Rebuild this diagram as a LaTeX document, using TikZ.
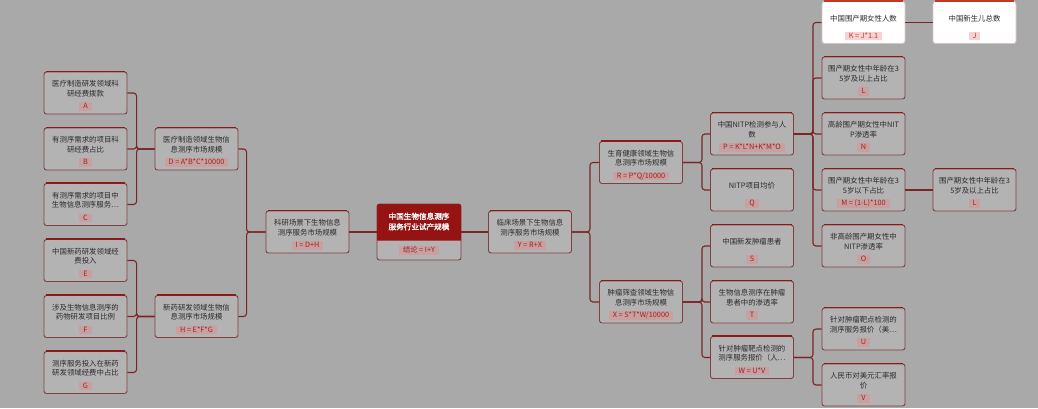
\documentclass[tikz,border=0pt]{standalone}
\usepackage{fontspec}
\newfontfamily\cjk{Noto Sans CJK SC}
\newfontfamily\cjkb{Noto Sans CJK SC}[FakeBold=1.5]
\usetikzlibrary{calc}
\definecolor{bgc}{HTML}{A9A9A9}
\definecolor{boxfill}{HTML}{B3B3B3}
\definecolor{boxborder}{HTML}{7E4040}
\definecolor{topred}{HTML}{8C1A1A}
\definecolor{labfill}{HTML}{C9A0A0}
\definecolor{labtext}{HTML}{9A2424}
\definecolor{txtc}{HTML}{2A2A2A}
\definecolor{linec}{HTML}{7A2626}
\definecolor{ctrred}{HTML}{951313}
\definecolor{wborder}{HTML}{D9C4C4}
\definecolor{wtop}{HTML}{C0392B}
\definecolor{wlabfill}{HTML}{F6D2D2}
\definecolor{wlabtext}{HTML}{C0392B}
\tikzset{
  box/.style={draw=boxborder, fill=boxfill, line width=0.9pt, rounded corners=2.5pt,
    minimum width=83pt, minimum height=42pt, inner sep=0pt},
  wbox/.style={draw=wborder, fill=white},
  topl/.style={draw=topred, line width=1.6pt},
  wtopl/.style={draw=wtop, line width=1.6pt},
  txt/.style={font=\cjk\fontsize{7.4}{9.3}\selectfont, text=txtc, align=center, inner sep=0pt},
  lab/.style={font=\cjk\fontsize{7.3}{7.5}\selectfont, fill=labfill, text=labtext,
    inner xsep=4pt, inner ysep=0.8pt, text height=5.4pt, text depth=1.2pt},
  wlab/.style={fill=wlabfill, text=wlabtext},
  conn/.style={draw=linec, line width=1.1pt, rounded corners=3pt},
}
\newcommand\bnode[5][]{%
  \node[box,#1] (#2) at #3 {};
  \draw[topl] ([xshift=2pt]#2.north west) -- ([xshift=-2pt]#2.north east);
  \node[txt] (#2t) at ([yshift=4.3pt]#2.center) {#4};
  \node[lab] (#2l) at ([yshift=8pt]#2.south) {#5};
}
\newcommand\wnode[4]{%
  \node[box,wbox] (#1) at #2 {};
  \draw[wtopl] ([xshift=2pt]#1.north west) -- ([xshift=-2pt]#1.north east);
  \node[txt] (#1t) at ([yshift=4.3pt]#1.center) {#3};
  \node[lab,wlab] (#1l) at ([yshift=8pt]#1.south) {#4};
}
\begin{document}
\begin{tikzpicture}[x=1pt,y=-1pt]
\fill[bgc] (0,0) rectangle (1038,408);
\useasboundingbox (0,0) rectangle (1038,408);

% left leaves
\bnode{A}{(85.5,93)}{医疗制造研发领域科\\研经费拨款}{A}
\bnode{B}{(85.5,149)}{有测序需求的项目科\\研经费占比}{B}
\bnode{C}{(85.5,204.5)}{有测序需求的项目中\\生物信息测序服务…}{C}
\bnode{E}{(85.5,260.5)}{中国新药研发领域经\\费投入}{E}
\bnode{F}{(85.5,316.5)}{涉及生物信息测序的\\药物研发项目比例}{F}
\bnode{G}{(85.5,372.5)}{测序服务投入在新药\\研发领域经费中占比}{G}
\bnode{D}{(196.5,149)}{医疗制造领域生物信\\息测序市场规模}{D = A*B*C*10000}
\bnode{H}{(196.5,316.5)}{新药研发领域生物信\\息测序市场规模}{H = E*F*G}
\bnode{I}{(307.5,232)}{科研场景下生物信息\\测序服务市场规模}{I = D+H}

% center
\node[box, minimum width=84pt, minimum height=56pt] (ctr) at (419,232) {};
\fill[ctrred] ($(ctr.north west)+(0.45,37)$) {[rounded corners=2.5pt] -- ($(ctr.north west)+(0.45,0.45)$) -- ($(ctr.north east)+(-0.45,0.45)$)} -- ($(ctr.north east)+(-0.45,37)$) -- cycle;
\node[txt, text=white, font=\cjkb\fontsize{7.6}{10.5}\selectfont] (ctrt) at ([yshift=10.5pt]ctr.center) {中国生物信息测序\\服务行业试产规模};
\node[lab] (ctrl) at ([yshift=10pt]ctr.south) {结论 = I+Y};

% right side
\bnode{Y}{(530,232)}{临床场景下生物信息\\测序服务市场规模}{Y = R+X}
\bnode{R}{(641,162.5)}{生育健康领域生物信\\息测序市场规模}{R = P*Q/10000}
\bnode{X}{(641,302)}{肿瘤筛查领域生物信\\息测序市场规模}{X = S*T*W/10000}
\bnode{P}{(752,134)}{中国NITP检测参与人\\数}{P = K*L*N+K*M*O}
\bnode{Q}{(752,190)}{NITP项目均价}{Q}
\bnode{S}{(752,246)}{中国新发肿瘤患者}{S}
\bnode{T}{(752,302)}{生物信息测序在肿瘤\\患者中的渗透率}{T}
\bnode{W}{(752,357.5)}{针对肿瘤靶点检测的\\测序服务报价（人…}{W = U*V}
\wnode{K}{(863.5,22.5)}{中国围产期女性人数}{K = J*1.1}
\wnode{J}{(974.5,22.5)}{中国新生儿总数}{J}
\bnode{L}{(863.5,78)}{围产期女性中年龄在3\\5岁及以上占比}{L}
\bnode{N}{(863.5,134)}{高龄围产期女性中NIT\\P渗透率}{N}
\bnode{M}{(863.5,190)}{围产期女性中年龄在3\\5岁以下占比}{M = (1-L)*100}
\bnode{Lb}{(974.5,190)}{围产期女性中年龄在3\\5岁及以上占比}{L}
\bnode{O}{(863.5,246)}{非高龄围产期女性中\\NITP渗透率}{O}
\bnode{U}{(863.5,329)}{针对肿瘤靶点检测的\\测序服务报价（美…}{U}
\bnode{V}{(863.5,385)}{人民币对美元汇率报\\价}{V}

% connectors
\draw[conn] (ctr.west) -- (I.east);
\draw[conn] (ctr.east) -- (Y.west);
\foreach \c in {D,H} \draw[conn] (I.west) -- ++(-19,0) |- (\c.east);
\foreach \c in {A,B,C} \draw[conn] (D.west) -- ++(-18,0) |- (\c.east);
\foreach \c in {E,F,G} \draw[conn] (H.west) -- ++(-18,0) |- (\c.east);
\foreach \c in {R,X} \draw[conn] (Y.east) -- ++(18,0) |- (\c.west);
\foreach \c in {P,Q} \draw[conn] (R.east) -- ++(19,0) |- (\c.west);
\foreach \c in {S,T,W} \draw[conn] (X.east) -- ++(19,0) |- (\c.west);
\foreach \c in {K,L,N,M,O} \draw[conn] (P.east) -- ++(19,0) |- (\c.west);
\foreach \c in {U,V} \draw[conn] (W.east) -- ++(19,0) |- (\c.west);
\draw[conn] (K.east) -- (J.west);
\draw[conn] (M.east) -- (Lb.west);
\end{tikzpicture}
\end{document}
